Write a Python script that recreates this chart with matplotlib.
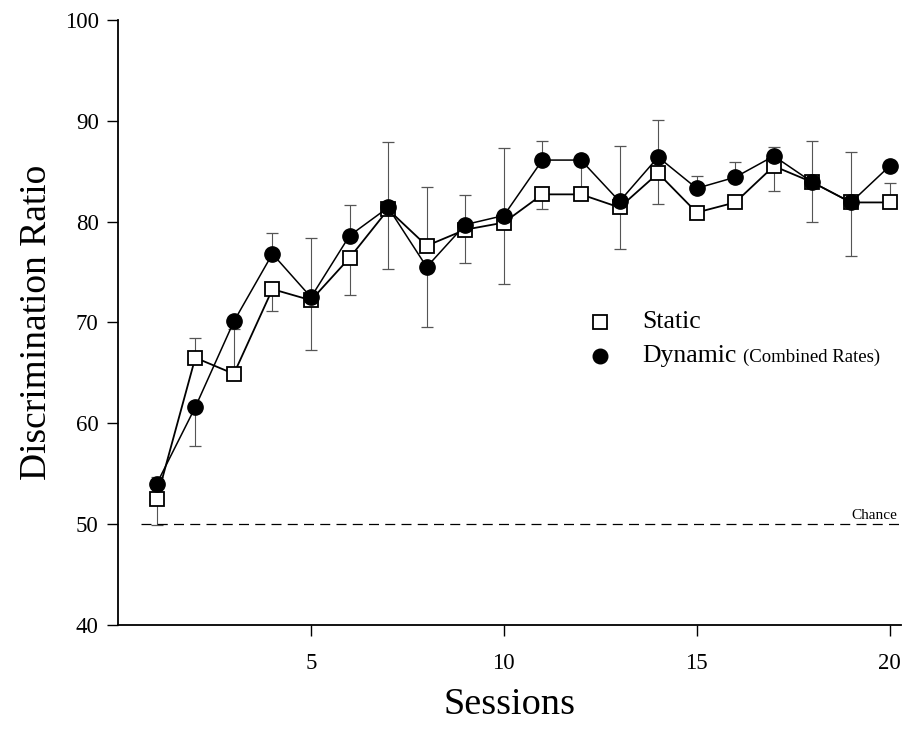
import numpy as np
import matplotlib
matplotlib.use("Agg")
import matplotlib.pyplot as plt

sessions = np.arange(1, 21)

static = [52.5, 66.5, 64.9, 73.3, 72.2, 76.4, 81.2, 77.6, 79.2, 79.9,
          82.7, 82.7, 81.4, 84.8, 80.9, 81.9, 85.5, 83.9, 81.9, 81.9]
dynamic = [54.0, 61.6, 70.1, 76.8, 72.5, 78.6, 81.4, 75.5, 79.7, 80.6,
           86.1, 86.1, 82.0, 86.4, 83.3, 84.4, 86.5, 83.9, 81.9, 85.5]

# one-sided error bars as drawn in the figure
static_err_lo = [2.6, 0, 0, 2.2, 4.9, 3.7, 5.9, 0, 3.3, 6.1,
                 1.5, 0, 4.1, 3.1, 0, 0, 2.5, 3.9, 5.3, 0]
static_err_hi = [0, 2.0, 4.4, 0, 0, 0, 0, 5.8, 0, 0,
                 0, 3.0, 0, 0, 0, 0, 0, 0, 0, 1.9]
dynamic_err_lo = [0, 3.9, 0, 0, 0, 0, 0, 6.0, 0, 0,
                  0, 0, 0, 0, 0, 0, 0, 0, 0, 0]
dynamic_err_hi = [0.7, 0, 0, 2.1, 5.9, 3.0, 6.5, 0, 2.9, 6.7,
                  1.9, 0, 5.5, 3.7, 1.2, 1.5, 0.9, 4.1, 5.0, 0]

chance = 50

plt.rcParams['font.family'] = ['Liberation Serif', 'DejaVu Serif']

fig = plt.figure(figsize=(9.02, 7.29), dpi=100)
ax = fig.add_axes([0.131, 0.1427, 0.868, 0.83])

def draw_err(y, lo, hi):
    lo = np.array(lo)
    hi = np.array(hi)
    for arr, sign in [(lo, -1), (hi, 1)]:
        m = arr > 0
        if not m.any():
            continue
        yerr = np.zeros((2, m.sum()))
        if sign < 0:
            yerr[0] = arr[m]
        else:
            yerr[1] = arr[m]
        ax.errorbar(sessions[m], np.array(y)[m], yerr=yerr, fmt='none',
                    ecolor='#555555', elinewidth=0.8, capsize=4.5,
                    capthick=0.9, zorder=1)

draw_err(static, static_err_lo, static_err_hi)
draw_err(dynamic, dynamic_err_lo, dynamic_err_hi)

ax.plot([0.6, 20.3], [chance, chance], color='black', lw=0.9,
        dashes=(8, 5), zorder=1)
ax.text(20.2, chance + 0.2, "Chance", fontsize=11, ha='right', va='bottom')

ax.plot(sessions, static, color='black', lw=1.3, marker='s', markersize=10.5,
        markerfacecolor='white', markeredgecolor='black', markeredgewidth=1.3,
        zorder=3)
ax.plot(sessions, dynamic, color='black', lw=1.1, marker='o', markersize=11,
        markerfacecolor='black', markeredgecolor='black', zorder=4)

# legend
ax.plot([12.5], [70.05], marker='s', markersize=10, markerfacecolor='white',
        markeredgecolor='black', markeredgewidth=1.3, ls='none')
ax.plot([12.5], [66.7], marker='o', markersize=10.5, color='black', ls='none')
ax.text(13.6, 70.05, "Static", fontsize=18.5, va='center')
ax.text(13.6, 66.7, "Dynamic", fontsize=18.5, va='center')
ax.text(16.2, 66.5, "(Combined Rates)", fontsize=13.5, va='center')

ax.set_xlim(0, 20.3)
ax.set_ylim(40, 100)
ax.set_xticks([5, 10, 15, 20])
ax.set_yticks(np.arange(40, 101, 10))
ax.tick_params(axis='both', direction='out', length=8, width=1,
               labelsize=16.5, pad=6)
ax.tick_params(axis='x', pad=12)
ax.spines['top'].set_visible(False)
ax.spines['right'].set_visible(False)
ax.spines['left'].set_linewidth(1.3)
ax.spines['bottom'].set_linewidth(1.3)

ax.set_xlabel("Sessions", fontsize=27.5, labelpad=10)
ax.set_ylabel("Discrimination Ratio", fontsize=27, labelpad=8)

fig.savefig("out.png", dpi=100)
